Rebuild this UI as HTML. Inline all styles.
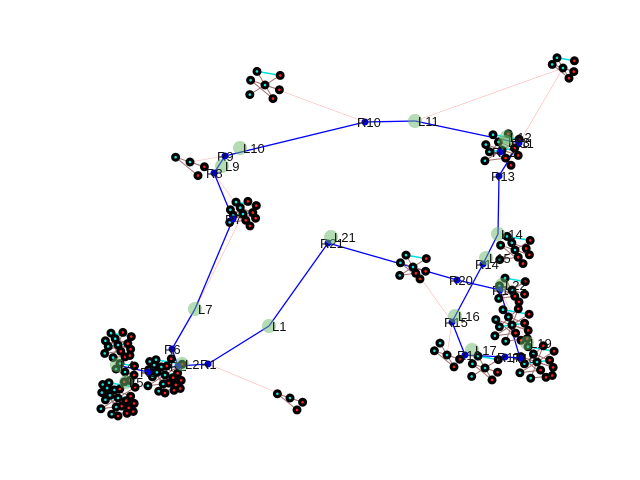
<!DOCTYPE html>
<html><head><meta charset="utf-8"><style>
html,body{margin:0;padding:0;background:#fff;}
svg{display:block;font-family:"Liberation Sans","DejaVu Sans",sans-serif;}
</style></head><body>
<svg id="chart" width="640" height="480" viewBox="0 0 640 480"></svg>
<script>
// route nodes: name, x, y, kind (R = blue dot, L = green circle)
const routeNames = ["R1","L1","R21","L21","R20","R19","L22","R18","L19","R17","L17","R16","R15","L16","R14","L15","L14","R13","L13","R11","L12","R12","L11","R10","L10","R9","L9","R8","R7","L7","R6","R2","L2","R3","L4","L5"];
const routeX = [208,269,328,331,457,500,502,520,527,505,472,465,452,455,483,486,498,499,505,519,507,500,415,365,240,225,222,214,233,195,172,178,182,148,117,126];
const routeY = [364,326,243,237,280,290,285,358,343,357,350,355,322,316,264,258,234,176,142,143,137,152,121,122,148,156,166,173,219,309,349,366,364,372,365,382];
// blue route edges (indices into the arrays above)
const routeEdges = [[0,1],[1,2],[2,4],[4,5],[5,7],[14,12],[12,11],[11,9],[9,7],[14,16],[16,17],[17,19],[19,22],[22,23],[23,25],[25,27],[27,28],[28,29],[29,30],[30,31],[0,31],[31,33],[33,34]];
// clusters: centre x, centre y, radius, node count
const clusterX = [265,563,190,243,502,515,413,512,512,537,485,447,290,118,118,165,125];
const clusterY = [85,68,162,214,150,250,267,290,325,362,368,355,398,345,398,375,372];
const clusterR = [16,12,16,14,18,16,14,14,18,18,14,14,14,14,18,18,10];
const clusterN = [7,6,4,12,12,10,8,8,14,14,7,5,4,14,22,22,6];
// faint pink links between clusters and route nodes
const linkPairs = [[0,23],[1,22],[1,19],[2,25],[3,27],[3,29],[6,4],[6,12],[11,12],[12,0],[8,5],[9,5]];
const ns="http://www.w3.org/2000/svg";
const svg=document.getElementById('chart');
function mk(t,a,p){const e=document.createElementNS(ns,t);for(const k in a)e.setAttribute(k,a[k]);(p||svg).appendChild(e);return e;}
const gl=mk('g',{});


linkPairs.forEach(p=>{
  const l=mk('line',{x1:clusterX[p[0]],y1:clusterY[p[0]],x2:routeX[p[1]],y2:routeY[p[1]],stroke:'#ffb0b0','stroke-width':0.6},gl);
  
  
});
const gr=mk('g',{});


routeEdges.forEach(e=>{
  const l=mk('line',{x1:routeX[e[0]],y1:routeY[e[0]],x2:routeX[e[1]],y2:routeY[e[1]],stroke:'#0000ff','stroke-width':1.3},gr);
  
  
});
// cluster nodes (fixed layout pattern)
const patX=[0,0.9,-0.9,0.5,-0.5,0.95,-0.95,0.2,-0.2,0.7,-0.7,0.35,-0.35,0.85,-0.85,0.1,-0.1,0.6,-0.6,0.45,-0.45,0.0];
const patY=[0,0.3,-0.3,0.85,-0.85,-0.6,0.6,0.45,-0.45,-0.1,0.1,-0.9,0.9,0.75,-0.75,-0.5,0.5,0.55,-0.55,0.15,-0.15,1.0];
clusterX.forEach((cx,i)=>{
  const g=mk('g',{});
  
  
  const pts=[];
  for(let k=0;k<clusterN[i];k++){const j=k%patX.length;pts.push([cx+patX[j]*clusterR[i],clusterY[i]+patY[j]*clusterR[i]]);}
  for(let k=1;k<pts.length;k++){const cy=k%5===0;mk('line',{x1:pts[k-1][0],y1:pts[k-1][1],x2:pts[k][0],y2:pts[k][1],stroke:cy?'#00e0e0':'#a07070','stroke-width':cy?1.5:1},g);}
  pts.forEach((p,k)=>{
    const c=mk('circle',{cx:p[0],cy:p[1],r:4.5,fill:'#000'},g);
    
    
    mk('circle',{cx:p[0],cy:p[1],r:1.3,fill:k%2?'#ff2020':'#20e0e0'},g);
  });
});
// route nodes and labels
const gn=mk('g',{});


routeNames.forEach((n,i)=>{
  let c;
  if(n[0]==='L'){c=mk('circle',{cx:routeX[i],cy:routeY[i],r:7,fill:'#6ab86a','fill-opacity':0.5},gn);}
  else{c=mk('circle',{cx:routeX[i],cy:routeY[i],r:3.5,fill:'#0000dd'},gn);}
  
  
  const t=mk('text',{x:routeX[i]+(n[0]==='L'?3:-8),y:routeY[i]+5,'font-size':13,fill:'#111'},gn);
  t.textContent=n;
  
  
});
</script>
</body></html>
